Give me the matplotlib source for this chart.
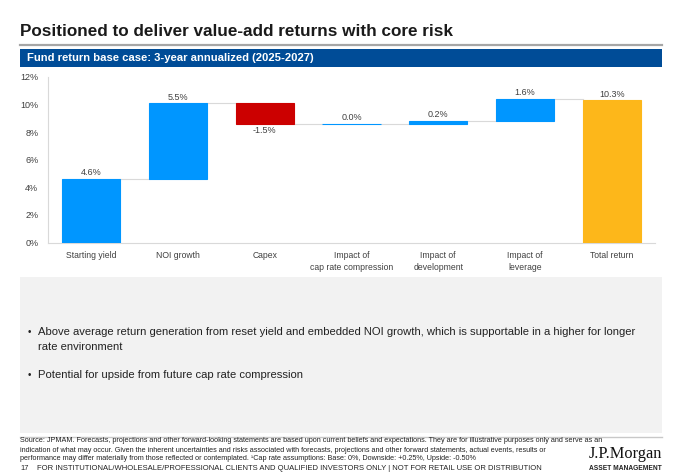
import matplotlib
matplotlib.use("Agg")
import matplotlib.pyplot as plt
from matplotlib.patches import Rectangle
from matplotlib.lines import Line2D

categories = ["Starting yield", "NOI growth", "Capex", "Impact of\ncap rate compression",
              "Impact of\ndevelopment", "Impact of\nleverage", "Total return"]
values = [4.6, 5.5, -1.5, 0.0, 0.2, 1.6, 10.3]
kinds = ["start", "step", "step", "step", "step", "step", "total"]
yticks = [0, 2, 4, 6, 8, 10, 12]

BLUE = "#0096FF"
RED = "#CC0000"
GOLD = "#FDB71A"
NAVY = "#004C97"
TXT = "#404040"

W, H = 680, 474
fig = plt.figure(figsize=(W / 100, H / 100), dpi=100)
plt.rcParams["font.family"] = ["Liberation Sans", "DejaVu Sans"]


def fx(x):
    return x / W


def fy(y):
    return 1 - y / H


# Title
fig.text(fx(20), fy(36), "Positioned to deliver value-add returns with core risk",
         fontsize=12.3, fontweight="bold", color="#1a1a1a", va="baseline", ha="left")
fig.add_artist(Line2D([fx(20), fx(662)], [fy(44.5), fy(44.5)], color="#A6A6A6", lw=1.6))
# Banner
fig.add_artist(Rectangle((fx(20), fy(67)), fx(662) - fx(20), fy(49) - fy(67),
                         facecolor=NAVY, edgecolor="none", transform=fig.transFigure))
fig.text(fx(27), fy(58), "Fund return base case: 3-year annualized (2025-2027)",
         fontsize=8.1, fontweight="bold", color="white", va="center", ha="left")

# Grey box
fig.add_artist(Rectangle((fx(20), fy(433)), fx(662) - fx(20), fy(277) - fy(433),
                         facecolor="#F2F2F2", edgecolor="none", transform=fig.transFigure))
fig.text(fx(28), fy(332), "•", fontsize=7, color="#222222", va="center")
fig.text(fx(38), fy(332), "Above average return generation from reset yield and embedded NOI growth, which is supportable in a higher for longer",
         fontsize=8.15, color="#222222", va="center")
fig.text(fx(38), fy(347), "rate environment", fontsize=8.15, color="#222222", va="center")
fig.text(fx(28), fy(375), "•", fontsize=7, color="#222222", va="center")
fig.text(fx(38), fy(375), "Potential for upside from future cap rate compression",
         fontsize=8.15, color="#222222", va="center")

# Footer
fig.add_artist(Line2D([fx(20), fx(662)], [fy(436.5), fy(436.5)], color="#C8C8C8", lw=1.0))
foot = [
    "Source: JPMAM. Forecasts, projections and other forward-looking statements are based upon current beliefs and expectations. They are for illustrative purposes only and serve as an",
    "indication of what may occur. Given the inherent uncertainties and risks associated with forecasts, projections and other forward statements, actual events, results or",
    "performance may differ materially from those reflected or contemplated. \u00b9Cap rate assumptions: Base: 0%, Downside: +0.25%, Upside: -0.50%",
]
for i, line in enumerate(foot):
    fig.text(fx(20), fy(441 + i * 9.0), line, fontsize=5.2, color="#222222", va="center")
fig.text(fx(20), fy(468.5), "17", fontsize=5.4, color="#222222", va="center")
fig.text(fx(37), fy(468.5),
         "FOR INSTITUTIONAL/WHOLESALE/PROFESSIONAL CLIENTS AND QUALIFIED INVESTORS ONLY | NOT FOR RETAIL USE OR DISTRIBUTION",
         fontsize=5.5, color="#222222", va="center")
fig.text(fx(625.5), fy(454), "J.P.Morgan", fontsize=11.8, family="Liberation Serif",
         color="#111111", va="center", ha="center")
fig.text(fx(625.5), fy(468.5), "ASSET MANAGEMENT", fontsize=4.8, fontweight="bold",
         color="#222222", va="center", ha="center")

# Chart
ax = fig.add_axes([fx(48), fy(242.5), fx(655) - fx(48), fy(77) - fy(242.5)])
n = len(categories)
xs = list(range(n))
bw = 0.67
bottoms, heights, colors = [], [], []
level = 0.0
for v, k in zip(values, kinds):
    if k == "start" or k == "total":
        bottoms.append(0.0)
        heights.append(v)
        colors.append(BLUE if k == "start" else GOLD)
        level = v
    else:
        if v >= 0:
            bottoms.append(level)
            heights.append(v)
            colors.append(BLUE)
        else:
            bottoms.append(level + v)
            heights.append(-v)
            colors.append(RED)
        level = level + v

ax.bar(xs, heights, bottom=bottoms, width=bw, color=colors, edgecolor=colors,
       linewidth=0.8, zorder=3)

# connectors
level = 0.0
tops = []
for v, k in zip(values, kinds):
    level = v if k in ("start", "total") else level + v
    tops.append(level)
for i in range(n - 1):
    ax.plot([xs[i] + bw / 2, xs[i + 1] - bw / 2], [tops[i], tops[i]],
            color="#D9D9D9", lw=0.8, zorder=2)

# value labels
for i, v in enumerate(values):
    if v >= 0:
        ax.text(xs[i], bottoms[i] + heights[i] + 0.12, f"{v:.1f}%", ha="center",
                va="bottom", fontsize=6.5, color=TXT)
    else:
        ax.text(xs[i], bottoms[i] - 0.12, f"{v:.1f}%", ha="center", va="top",
                fontsize=6.5, color=TXT)

ax.set_xlim(-0.5, n - 0.5)
ax.set_ylim(0, 12)
ax.set_yticks(yticks)
ax.set_yticklabels([f"{t}%" for t in yticks], fontsize=6.5, color=TXT)
ax.set_xticks(xs)
ax.set_xticklabels(categories, fontsize=6.2, color=TXT, linespacing=1.4)
ax.tick_params(axis="both", length=0, pad=7)
ax.tick_params(axis="x", pad=6)
for s in ["top", "right"]:
    ax.spines[s].set_visible(False)
for s in ["left", "bottom"]:
    ax.spines[s].set_color("#D9D9D9")
    ax.spines[s].set_linewidth(0.8)
ax.set_facecolor("none")

fig.savefig("out.png", dpi=100)
